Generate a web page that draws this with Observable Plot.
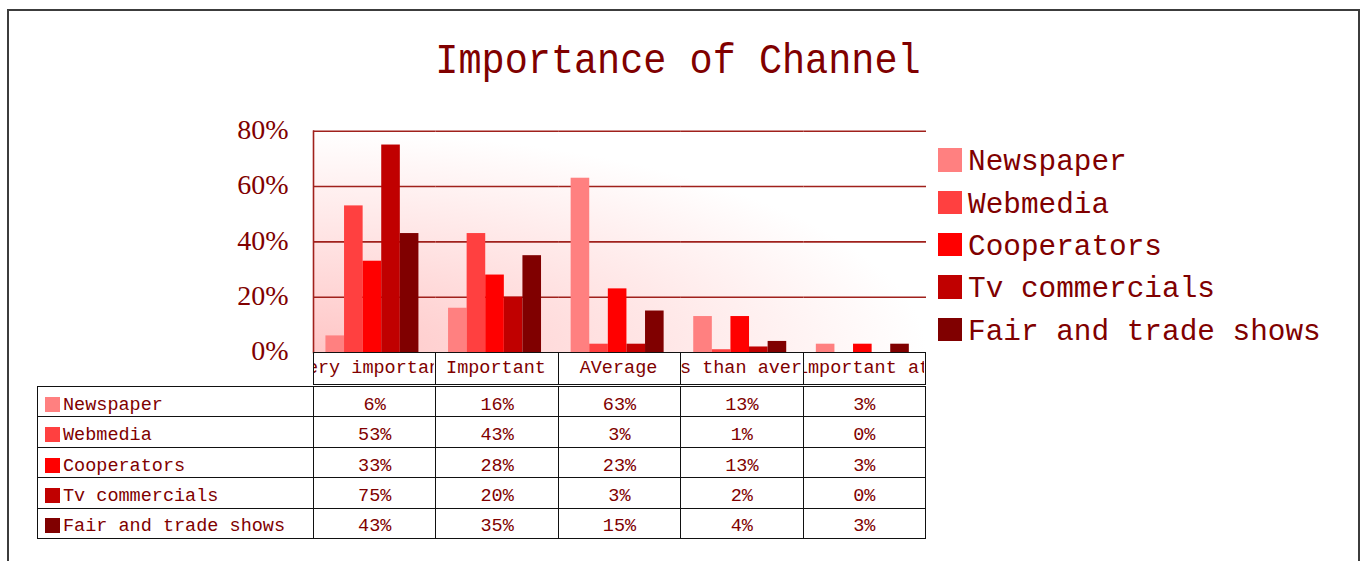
<!DOCTYPE html>
<html>
<head>
<meta charset="utf-8">
<script src="https://cdn.jsdelivr.net/npm/d3@7"></script>
<script src="https://cdn.jsdelivr.net/npm/@observablehq/plot@0.6"></script>
<style>
  html, body { margin: 0; padding: 0; background: #fff; }
  body { width: 1365px; height: 561px; position: relative; overflow: hidden; }
  .frame { position: absolute; left: 7px; top: 9px; width: 1349px; height: 600px;
           border: 2px solid #3c3c3c; border-bottom: none; }
  .title { position: absolute; left: 678px; top: 40.5px; font-family: "Liberation Mono", monospace;
           font-size: 42px; line-height: 42px; color: #800000; white-space: nowrap;
           transform: translateX(-50%) scaleX(0.917); transform-origin: center; }
  #chart { position: absolute; left: 0; top: 0; }
  .legend { position: absolute; left: 938px; top: 148.2px; font-family: "Liberation Mono", monospace;
            font-size: 29.4px; line-height: 29.4px; color: #800000; }
  .legend .row { position: absolute; left: 0; white-space: nowrap; height: 29.4px; }
  .legend .sw { position: absolute; left: 0; top: 0; width: 24px; height: 23.4px; }
  .legend .lab { position: absolute; left: 30px; top: 0; }
  table { border-collapse: collapse; table-layout: fixed; position: absolute;
          font-family: "Liberation Mono", monospace; font-size: 18.5px; line-height: 18.5px; color: #800000; }
  td { border: 1.5px solid #111; padding: 0; overflow: hidden; white-space: nowrap; }
  #head td { height: 31px; vertical-align: middle; }
  #head td div { display: flex; justify-content: center; overflow: hidden; white-space: nowrap; padding-top: 3px; }
  #data td { height: 28.4px; vertical-align: bottom; padding-bottom: 1px; text-align: center; }
  #data td.name { text-align: left; padding-left: 7px; }
  #data td.name span.key { display: inline-block; width: 15px; height: 15px; vertical-align: -2px; margin-right: 3px; }
</style>
</head>
<body>
<svg width="0" height="0" style="position:absolute">
  <defs>
    <radialGradient id="plotBg" cx="0" cy="1" r="1" fx="0" fy="1">
      <stop offset="0" stop-color="#ffc6c6"/>
      <stop offset="1" stop-color="#ffffff"/>
    </radialGradient>
  </defs>
</svg>
<div class="frame"></div>
<div class="title" id="title"></div>
<div id="chart"></div>
<div class="legend" id="legend"></div>
<table id="head"></table>
<table id="data"></table>
<script>
const chartTitle = "Importance of Channel";
const categories = ["Very important", "Important", "AVerage", "Less than average", "Not important at all"];
const series = ["Newspaper", "Webmedia", "Cooperators", "Tv commercials", "Fair and trade shows"];
const seriesColors = ["#ff8080", "#ff4040", "#ff0000", "#c00000", "#800000"];
const newspaper = [6, 16, 63, 13, 3];
const webmedia = [53, 43, 3, 1, 0];
const cooperators = [33, 28, 23, 13, 3];
const tvCommercials = [75, 20, 3, 2, 0];
const fairShows = [43, 35, 15, 4, 3];
const yTicks = [0, 20, 40, 60, 80];

const seriesValues = [newspaper, webmedia, cooperators, tvCommercials, fairShows];
const rows = series.flatMap((s, i) => categories.map((c, j) => ({series: s, category: c, value: seriesValues[i][j]})));

document.getElementById("title").textContent = chartTitle;

const plot = Plot.plot({
  width: 940,
  height: 380,
  marginLeft: 313,
  marginRight: 14,
  marginTop: 130.7,
  marginBottom: 28,
  style: {background: "transparent", fontFamily: "Liberation Serif", color: "#800000"},
  fx: {domain: categories, padding: 0, round: false, axis: null},
  x: {domain: series, paddingInner: 0, paddingOuter: 0.796, align: 0.42, round: false, axis: null},
  y: {domain: [0, 80], axis: null},
  color: {domain: series, range: seriesColors},
  marks: [
    Plot.frame({fill: "url(#plotBg)", stroke: null, facet: "super"}),
    Plot.ruleY(yTicks.filter(t => t > 0), {stroke: "#a0211c", strokeWidth: 1.6}),
    Plot.frame({anchor: "left", stroke: "#a0211c", strokeWidth: 1.6, facet: "super"}),
    Plot.barY(rows, {fx: "category", x: "series", y: "value", fill: "series"}),
    Plot.axisY({ticks: yTicks, tickFormat: d => d + "%", tickSize: 0, tickPadding: 25,
                fontSize: 28, fill: "#800000", dy: -1, label: null})
  ]
});
document.getElementById("chart").appendChild(plot);

// Legend
const legend = document.getElementById("legend");
series.forEach((s, i) => {
  const r = document.createElement("div");
  r.className = "row";
  r.style.top = (i * 42.4) + "px";
  r.innerHTML = `<div class="sw" style="background:${seriesColors[i]}"></div><div class="lab"></div>`;
  r.querySelector(".lab").textContent = s;
  legend.appendChild(r);
});

// Header row (category labels) of the data table
const head = document.getElementById("head");
head.style.left = "312.5px";
head.style.top = "351.5px";
head.style.width = "613.5px";
const hr = head.insertRow();
categories.forEach(c => {
  const td = hr.insertCell();
  const d = document.createElement("div");
  d.style.width = "120px";
  d.textContent = c;
  td.appendChild(d);
});

// Data rows
const data = document.getElementById("data");
data.style.left = "37px";
data.style.top = "386px";
data.style.width = "889px";
const cg = document.createElement("colgroup");
cg.innerHTML = `<col style="width:276px">` + categories.map(() => `<col>`).join("");
data.appendChild(cg);
series.forEach((s, i) => {
  const tr = data.insertRow();
  const name = tr.insertCell();
  name.className = "name";
  name.innerHTML = `<span class="key" style="background:${seriesColors[i]}"></span>`;
  name.appendChild(document.createTextNode(s));
  seriesValues[i].forEach(v => {
    const td = tr.insertCell();
    td.textContent = v + "%";
  });
});
</script>
</body>
</html>
